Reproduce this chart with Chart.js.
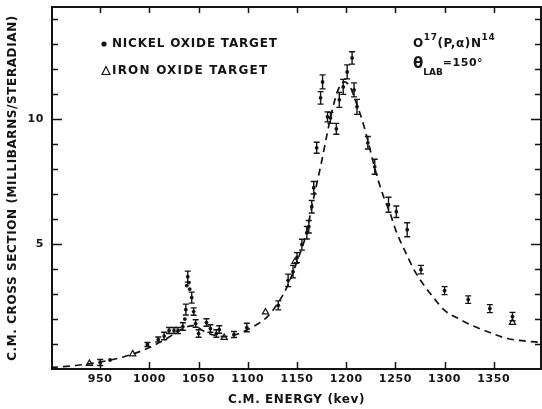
<!DOCTYPE html>
<html>
<head>
<meta charset="utf-8">
<script src="https://cdn.jsdelivr.net/npm/chart.js@4.4.0/dist/chart.umd.min.js"></script>
<style>
  html, body { margin: 0; padding: 0; background: #fff; }
</style>
</head>
<body>
<canvas id="xsecChart" width="542" height="409"></canvas>
<script>
// nickel oxide target: energy (keV), cross section (mb/sr), error half-length (0 = no bar)
const nickelEnergy = [950, 960, 998, 1009, 1015, 1020, 1025, 1029, 1034, 1036, 1037, 1038, 1039, 1040, 1041, 1043, 1045, 1047, 1050, 1058, 1062, 1068, 1071, 1086, 1099,
  1131, 1141, 1146, 1150, 1155, 1160, 1162, 1165, 1167, 1170, 1174, 1176, 1181, 1184, 1190, 1193, 1197, 1201, 1206, 1208, 1211,
  1222, 1229, 1243, 1251, 1262, 1276, 1300, 1324, 1346, 1369];
const nickelSigma = [0.26, 0.36, 0.98, 1.18, 1.32, 1.54, 1.54, 1.54, 1.7, 2.0, 2.38, 3.34, 3.7, 3.46, 3.2, 2.86, 2.3, 1.82, 1.42, 1.86, 1.62, 1.42, 1.58, 1.38, 1.66,
  2.55, 3.55, 3.9, 4.46, 4.98, 5.46, 5.7, 6.5, 7.26, 8.86, 10.86, 11.5, 10.1, 10.06, 9.62, 10.78, 11.3, 11.9, 12.46, 11.18, 10.5,
  9.06, 8.1, 6.58, 6.3, 5.58, 3.98, 3.14, 2.78, 2.42, 2.1];
const nickelErr = [0.12, 0, 0.08, 0.1, 0.15, 0.12, 0.12, 0.12, 0.15, 0, 0.22, 0, 0.22, 0, 0, 0.22, 0.15, 0.15, 0.15, 0.15, 0.15, 0.15, 0.15, 0.12, 0.17,
  0.18, 0.25, 0.25, 0.2, 0.22, 0.25, 0.25, 0.25, 0.25, 0.22, 0.25, 0.28, 0.2, 0.22, 0.22, 0.3, 0.3, 0.28, 0.25, 0.28, 0.3,
  0.25, 0.3, 0.3, 0.23, 0.28, 0.17, 0.16, 0.15, 0.16, 0.17];

// iron oxide target
const ironEnergy = [939, 983, 1076, 1118, 1148, 1369];
const ironSigma = [0.22, 0.6, 1.26, 2.28, 4.3, 1.86];

// dashed theoretical curve
const fitEnergy = [900, 925, 950, 975, 1000, 1020, 1035, 1045, 1055, 1065, 1075, 1090, 1100, 1110, 1120, 1130, 1140, 1150, 1160, 1165, 1170, 1175, 1180, 1186, 1192, 1198, 1204, 1209, 1216, 1221, 1228, 1233, 1238, 1245, 1250, 1260, 1270, 1282, 1290, 1300, 1315, 1326, 1346, 1364, 1398];
const fitSigma = [0.06, 0.14, 0.28, 0.5, 0.86, 1.28, 1.64, 1.74, 1.52, 1.36, 1.3, 1.4, 1.58, 1.8, 2.1, 2.6, 3.3, 4.3, 5.5, 6.5, 7.4, 8.3, 9.3, 10.4, 11.2, 11.5, 11.3, 10.8, 10.0, 9.3, 8.2, 7.5, 6.9, 6.2, 5.6, 4.7, 3.9, 3.2, 2.8, 2.35, 2.0, 1.78, 1.46, 1.22, 1.06];

const xTickValues = [950, 1000, 1050, 1100, 1150, 1200, 1250, 1300, 1350];
const yLabelValues = [5, 10];
const yMinorValues = [1, 2, 3, 4, 5, 6, 7, 8, 9, 10, 11, 12, 13, 14];

const INK = '#141414';
const FONT = '"DejaVu Sans", sans-serif';

const toPoints = (xs, ys) => xs.map((x, i) => ({ x: x, y: ys[i] }));

// frame, inward ticks, error bars and the text inside the plot
const plotDecor = {
  id: 'plotDecor',
  beforeDraw(chart) {
    chart.ctx.letterSpacing = '0.6px';
  },
  afterDatasetsDraw(chart) {
    const { ctx, scales: { x, y } } = chart;
    ctx.save();
    ctx.strokeStyle = INK;
    ctx.lineWidth = 1.4;
    nickelEnergy.forEach((e, i) => {
      const err = nickelErr[i];
      if (!err) return;
      const px = x.getPixelForValue(e);
      const top = y.getPixelForValue(nickelSigma[i] + err);
      const bot = y.getPixelForValue(nickelSigma[i] - err);
      ctx.beginPath();
      ctx.moveTo(px, top); ctx.lineTo(px, bot);
      ctx.moveTo(px - 3, top); ctx.lineTo(px + 3, top);
      ctx.moveTo(px - 3, bot); ctx.lineTo(px + 3, bot);
      ctx.stroke();
    });
    ctx.restore();
  },
  afterDraw(chart) {
    const { ctx, chartArea: a, scales: { x, y } } = chart;
    ctx.save();
    ctx.strokeStyle = INK;
    ctx.lineWidth = 2;
    ctx.strokeRect(a.left, a.top, a.right - a.left, a.bottom - a.top);

    ctx.lineWidth = 1.5;
    ctx.beginPath();
    yMinorValues.forEach(v => {
      const py = Math.round(y.getPixelForValue(v)) + 0.5;
      const len = v % 5 === 0 ? 10 : 6;
      ctx.moveTo(a.left, py); ctx.lineTo(a.left + len, py);
      ctx.moveTo(a.right, py); ctx.lineTo(a.right - len, py);
    });
    xTickValues.forEach(v => {
      const px = Math.round(x.getPixelForValue(v)) + 0.5;
      ctx.moveTo(px, a.bottom); ctx.lineTo(px, a.bottom - 7);
      ctx.moveTo(px, a.top); ctx.lineTo(px, a.top + 6);
    });
    ctx.stroke();

    // legend
    ctx.fillStyle = INK;
    ctx.textBaseline = 'middle';
    ctx.textAlign = 'left';
    ctx.letterSpacing = '0.8px';
    ctx.font = 'bold 12px ' + FONT;
    ctx.beginPath();
    ctx.arc(104, 44, 2.6, 0, Math.PI * 2);
    ctx.fill();
    ctx.fillText('NICKEL OXIDE TARGET', 112, 44);
    ctx.lineWidth = 1.2;
    ctx.beginPath();
    ctx.moveTo(106, 66.5); ctx.lineTo(110, 74.5); ctx.lineTo(102, 74.5); ctx.closePath();
    ctx.stroke();
    ctx.letterSpacing = '1.2px';
    ctx.fillText('IRON OXIDE TARGET', 112, 71);

    // reaction label
    let cx = 413;
    const put = (txt, size, dy) => {
      ctx.font = 'bold ' + size + 'px ' + FONT;
      ctx.fillText(txt, cx, dy);
      cx += ctx.measureText(txt).width;
    };
    ctx.letterSpacing = '0.6px';
    put('O', 12, 44);
    put('17', 9, 38);
    put('(P,\u03b1)N', 12, 44);
    put('14', 9, 38);

    cx = 413;
    ctx.letterSpacing = '0px';
    put('\u03b8', 15, 64);
    put('LAB', 9, 73);
    ctx.letterSpacing = '0.5px';
    put('=150\u00b0', 11, 63);
    ctx.restore();
  }
};

new Chart(document.getElementById('xsecChart'), {
  type: 'scatter',
  data: {
    datasets: [
      {
        label: 'Nickel oxide target',
        data: toPoints(nickelEnergy, nickelSigma),
        pointRadius: 1.9,
        pointBackgroundColor: INK,
        pointBorderWidth: 0
      },
      {
        label: 'Iron oxide target',
        data: toPoints(ironEnergy, ironSigma),
        pointStyle: 'triangle',
        pointRadius: 3.6,
        pointBackgroundColor: 'rgba(255,255,255,0)',
        pointBorderColor: INK,
        pointBorderWidth: 1.2
      },
      {
        label: 'Theory',
        data: toPoints(fitEnergy, fitSigma),
        showLine: true,
        pointRadius: 0,
        borderColor: INK,
        borderWidth: 1.7,
        borderDash: [7, 5],
        cubicInterpolationMode: 'monotone'
      }
    ]
  },
  options: {
    responsive: false,
    animation: false,
    devicePixelRatio: 1,
    layout: { autoPadding: false, padding: { top: 7, right: 1, left: 0, bottom: 0 } },
    plugins: { legend: { display: false }, tooltip: { enabled: false } },
    scales: {
      x: {
        type: 'linear',
        min: 901,
        max: 1398,
        afterBuildTicks: s => { s.ticks = xTickValues.map(v => ({ value: v })); },
        afterFit: s => { s.height = 40; s.paddingLeft = 0; s.paddingRight = 0; },
        grid: { display: false, drawTicks: false },
        border: { display: false },
        ticks: { color: INK, font: { family: FONT, size: 11, weight: 'bold' }, padding: 4, maxRotation: 0, autoSkip: false, callback: v => String(v) },
        title: { display: true, text: 'C.M. ENERGY (kev)', color: INK, font: { family: FONT, size: 12, weight: 'bold' }, padding: { top: 6, bottom: 2 } }
      },
      y: {
        min: 0,
        max: 14.5,
        afterBuildTicks: s => { s.ticks = yLabelValues.map(v => ({ value: v })); },
        afterFit: s => { s.width = 52; s.paddingTop = 0; s.paddingBottom = 0; },
        grid: { display: false, drawTicks: false },
        border: { display: false },
        ticks: { color: INK, font: { family: FONT, size: 11, weight: 'bold' }, padding: 8, callback: v => String(v) },
        title: { display: true, text: 'C.M. CROSS SECTION (MILLIBARNS/STERADIAN)', color: INK, font: { family: FONT, size: 12, weight: 'bold' }, padding: { top: 6, bottom: 0 } }
      }
    }
  },
  plugins: [plotDecor]
});
</script>
</body>
</html>
